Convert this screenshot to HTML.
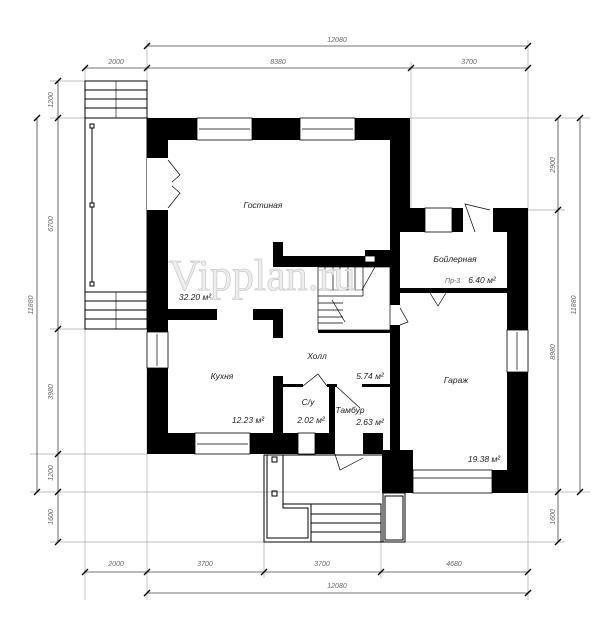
<!DOCTYPE html>
<html><head><meta charset="utf-8"><style>
html,body{margin:0;padding:0;background:#fff;}
svg{display:block;}
text{font-family:"Liberation Sans",sans-serif;font-style:italic;fill:#222;}
.d{font-size:7px;fill:#666;}
.l{font-size:8.5px;}
</style></head><body>
<svg width="600" height="621" viewBox="0 0 600 621" xmlns="http://www.w3.org/2000/svg">
<rect width="600" height="621" fill="#fff"/>
<!-- extension / grid lines -->
<g stroke="#aaa" stroke-width="0.7" fill="none">
<line x1="85" y1="68" x2="85" y2="600"/>
<line x1="147" y1="40" x2="147" y2="600"/>
<line x1="411" y1="62" x2="411" y2="208"/>
<line x1="528" y1="40" x2="528" y2="600"/>
<line x1="264" y1="540" x2="264" y2="578"/>
<line x1="381" y1="540" x2="381" y2="578"/>
<line x1="50" y1="118" x2="150" y2="118"/>
<line x1="410" y1="118" x2="590" y2="118"/>
<line x1="50" y1="81" x2="85" y2="81"/>
<line x1="50" y1="329" x2="85" y2="329"/>
<line x1="30" y1="454" x2="147" y2="454"/>
<line x1="30" y1="492" x2="380" y2="492"/>
<line x1="530" y1="492" x2="590" y2="492"/>
<line x1="50" y1="542" x2="264" y2="542"/>
<line x1="405" y1="542" x2="565" y2="542"/>
<line x1="528" y1="210" x2="565" y2="210"/>
</g>
<!-- dimension lines -->
<g stroke="#444" stroke-width="0.8" fill="none">
<line x1="147" y1="46" x2="528" y2="46"/>
<line x1="85" y1="68" x2="528" y2="68"/>
<line x1="85" y1="572" x2="528" y2="572"/>
<line x1="147" y1="593" x2="528" y2="593"/>
<line x1="37" y1="118" x2="37" y2="492"/>
<line x1="58" y1="81" x2="58" y2="542"/>
<line x1="558" y1="118" x2="558" y2="542"/>
<line x1="580" y1="118" x2="580" y2="492"/>
</g>
<g stroke="#000" stroke-width="1.4">
<!-- ticks -->
<path d="M144 49l6-6M525 49l6-6M82 71l6-6M144 71l6-6M408 71l6-6M525 71l6-6
M82 575l6-6M144 575l6-6M261 575l6-6M378 575l6-6M525 575l6-6M144 596l6-6M525 596l6-6
M34 121l6-6M34 495l6-6M55 84l6-6M55 121l6-6M55 332l6-6M55 457l6-6M55 495l6-6M55 545l6-6
M555 121l6-6M555 213l6-6M555 495l6-6M555 545l6-6M577 121l6-6M577 495l6-6"/>
</g>
<g class="d">
<text x="337" y="42" class="d" text-anchor="middle">12080</text>
<text x="116" y="64" class="d" text-anchor="middle">2000</text>
<text x="278" y="64" class="d" text-anchor="middle">8380</text>
<text x="469" y="64" class="d" text-anchor="middle">3700</text>
<text x="116" y="566" class="d" text-anchor="middle">2000</text>
<text x="205" y="566" class="d" text-anchor="middle">3700</text>
<text x="322" y="566" class="d" text-anchor="middle">3700</text>
<text x="454" y="566" class="d" text-anchor="middle">4680</text>
<text x="337" y="588" class="d" text-anchor="middle">12080</text>
<text class="d" text-anchor="middle" transform="translate(33,305) rotate(-90)">11880</text>
<text class="d" text-anchor="middle" transform="translate(53,100) rotate(-90)">1200</text>
<text class="d" text-anchor="middle" transform="translate(53,224) rotate(-90)">6700</text>
<text class="d" text-anchor="middle" transform="translate(53,392) rotate(-90)">3980</text>
<text class="d" text-anchor="middle" transform="translate(53,473) rotate(-90)">1200</text>
<text class="d" text-anchor="middle" transform="translate(53,517) rotate(-90)">1600</text>
<text class="d" text-anchor="middle" transform="translate(555,165) rotate(-90)">2900</text>
<text class="d" text-anchor="middle" transform="translate(555,352) rotate(-90)">8980</text>
<text class="d" text-anchor="middle" transform="translate(576,305) rotate(-90)">11880</text>
<text class="d" text-anchor="middle" transform="translate(555,517) rotate(-90)">1600</text>
</g>
<!-- left porch -->
<g stroke="#000" fill="none" stroke-width="1">
<rect x="85" y="81" width="62" height="37"/>
<line x1="85" y1="90" x2="147" y2="90"/><line x1="85" y1="99" x2="147" y2="99"/><line x1="85" y1="108" x2="147" y2="108"/>
<line x1="116" y1="81" x2="116" y2="118" stroke-width="0.6"/>
<rect x="85" y="118" width="62" height="174"/>
<rect x="85" y="292" width="62" height="37"/>
<line x1="85" y1="301" x2="147" y2="301"/><line x1="85" y1="310" x2="147" y2="310"/><line x1="85" y1="319" x2="147" y2="319"/>
<line x1="116" y1="292" x2="116" y2="329" stroke-width="0.6"/>
<line x1="92" y1="126" x2="92" y2="284"/>
<rect x="90" y="124" width="4" height="4" fill="#fff"/>
<rect x="90" y="203" width="4" height="4" fill="#fff"/>
<rect x="90" y="282" width="4" height="4" fill="#fff"/>
</g>
<!-- walls -->
<g fill="#000">
<rect x="147" y="118" width="263" height="22"/>
<rect x="147" y="118" width="21" height="336"/>
<rect x="147" y="433" width="236" height="21"/>
<rect x="390" y="118" width="20" height="100"/>
<rect x="390" y="208" width="10" height="260"/>
<rect x="400" y="208" width="128" height="24"/>
<rect x="507" y="208" width="21" height="285"/>
<rect x="382" y="450" width="31" height="43"/>
<rect x="492" y="470" width="36" height="23"/>
<rect x="400" y="288" width="107" height="5"/>
<rect x="168" y="309" width="49" height="11"/>
<rect x="253" y="309" width="30" height="11"/>
<rect x="273" y="309" width="10" height="29"/>
<rect x="273" y="242" width="10" height="25"/>
<rect x="273" y="256" width="92" height="11"/>
<rect x="365" y="250" width="25" height="17"/>
<rect x="318" y="330" width="72" height="3"/>
<rect x="273" y="376" width="10" height="57"/>
<rect x="283" y="384" width="20" height="3"/>
<rect x="327" y="384" width="10" height="3"/>
<rect x="329" y="384" width="6" height="49"/>
<rect x="362" y="384" width="28" height="3"/>
</g>
<!-- openings (white) -->
<g fill="#fff" stroke="#000" stroke-width="0.8">
<rect x="197" y="118" width="55" height="22"/>
<rect x="300" y="118" width="55" height="22"/>
<rect x="195" y="433" width="55" height="21"/>
<rect x="298" y="433" width="17" height="21"/>
<rect x="335" y="433" width="28" height="21" stroke="none"/>
<rect x="147" y="158" width="21" height="52" stroke="none"/>
<rect x="147" y="332" width="21" height="36"/>
<rect x="425" y="208" width="27" height="24"/>
<rect x="463" y="208" width="30" height="24" stroke="none"/>
<rect x="507" y="330" width="21" height="42"/>
<rect x="413" y="470" width="79" height="23"/>
<rect x="390" y="305" width="10" height="20" stroke="none"/>
<rect x="365" y="256" width="10" height="6"/>
</g>
<g stroke="#000" fill="none" stroke-width="0.7">
<line x1="199" y1="129" x2="250" y2="129"/><line x1="302" y1="129" x2="353" y2="129"/>
<line x1="197" y1="444" x2="248" y2="444"/><line x1="157" y1="334" x2="157" y2="366"/>
<line x1="517" y1="332" x2="517" y2="370"/><line x1="413" y1="478" x2="492" y2="478"/>
<path d="M168 160 L180 175 L172 182 M168 208 L180 193 L172 186"/>
<path d="M475 232 L465 204 L490 210"/>
<path d="M430 293 L438 306 L446 293"/>
<path d="M400 308 L408 322 L400 325"/>
<path d="M303 386 L318 374 L327 386"/>
<path d="M337 387 L360 408"/>
<path d="M335 454 L340 470 L363 458"/>
<!-- stairs -->
<rect x="318" y="267" width="72" height="63"/>
<line x1="318" y1="296" x2="363" y2="296"/>
<line x1="318" y1="290" x2="363" y2="290" stroke-width="0.4"/>
<path d="M325 267v23M333 267v23M340 267v23M348 267v23M355 267v23M318 303h25M318 310h25M318 317h25M318 323h25M363 267v29"/>
<path d="M332 300 L345 322"/>
<path d="M380 258 L362 290"/>
</g>
<!-- entrance -->
<g stroke="#000" fill="none" stroke-width="1">
<rect x="264" y="455" width="141" height="87"/>
<path d="M267 455 V538 H308 V508 H283 V455"/>
<line x1="283" y1="504" x2="381" y2="504"/>
<rect x="311" y="504" width="70" height="38"/>
<line x1="311" y1="514" x2="381" y2="514"/><line x1="311" y1="523" x2="381" y2="523"/><line x1="311" y1="532" x2="381" y2="532"/>
<rect x="383" y="493" width="22" height="49"/>
<rect x="385" y="496" width="18" height="44"/>
<rect x="272" y="457" width="5" height="5"/><rect x="272" y="491" width="5" height="5"/>
</g>
<!-- watermark -->
<text x="262" y="290" text-anchor="middle" style="font-family:'Liberation Serif',serif;font-style:normal;font-size:44px;fill:#eee;stroke:#ccc;stroke-width:0.8">Vipplan.ru</text>
<!-- labels -->
<g class="l">
<text x="263" y="208" class="l" text-anchor="middle">Гостиная</text>
<text x="195" y="300" class="l" text-anchor="middle">32.20 м²</text>
<text x="455" y="262" class="l" text-anchor="middle">Бойлерная</text>
<text x="445" y="283" class="d">Пр-3</text>
<text x="482" y="283" class="l" text-anchor="middle">6.40 м²</text>
<text x="317" y="359" class="l" text-anchor="middle">Холл</text>
<text x="222" y="379" class="l" text-anchor="middle">Кухня</text>
<text x="370" y="379" class="l" text-anchor="middle">5.74 м²</text>
<text x="456" y="383" class="l" text-anchor="middle">Гараж</text>
<text x="308" y="405" class="l" text-anchor="middle">С/у</text>
<text x="350" y="413" class="l" text-anchor="middle">Тамбур</text>
<text x="248" y="423" class="l" text-anchor="middle">12.23 м²</text>
<text x="311" y="423" class="l" text-anchor="middle">2.02 м²</text>
<text x="370" y="425" class="l" text-anchor="middle">2.63 м²</text>
<text x="484" y="462" class="l" text-anchor="middle">19.38 м²</text>
</g>
</svg>
</body></html>
